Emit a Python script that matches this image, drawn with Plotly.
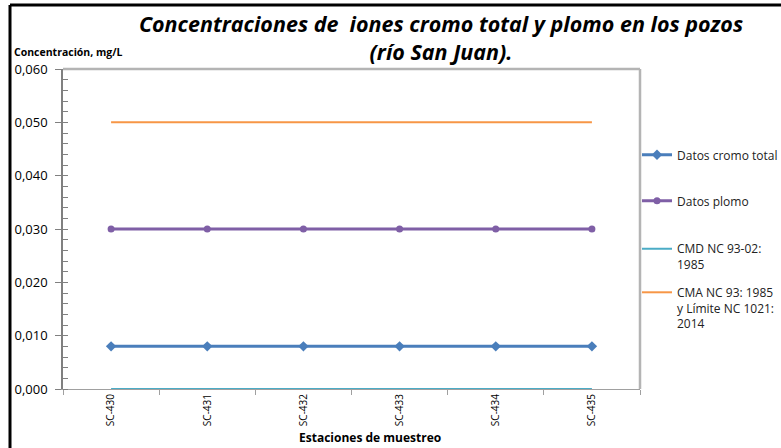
import plotly.graph_objects as go

# Sampling stations and measured concentrations (mg/L)
stations = ["SC-430", "SC-431", "SC-432", "SC-433", "SC-434", "SC-435"]
cromo_total = [0.008, 0.008, 0.008, 0.008, 0.008, 0.008]
plomo = [0.030, 0.030, 0.030, 0.030, 0.030, 0.030]
cmd_nc_93_02 = [0.000, 0.000, 0.000, 0.000, 0.000, 0.000]
cma_nc_93 = [0.050, 0.050, 0.050, 0.050, 0.050, 0.050]

y_ticks = [0.000, 0.010, 0.020, 0.030, 0.040, 0.050, 0.060]

FONT = "Open Sans"
W, H = 781, 448
L, R, T, B = 63, 141, 69, 59

fig = go.Figure()

fig.add_trace(go.Scatter(
    x=stations, y=cmd_nc_93_02, mode="lines", name="CMD NC 93-02:<br>1985",
    line=dict(color="#4BACC6", width=2), cliponaxis=False, legend="legend3",
))
fig.add_trace(go.Scatter(
    x=stations, y=cma_nc_93, mode="lines",
    name="CMA NC 93: 1985<br>y Límite NC 1021:<br>2014",
    line=dict(color="#F79646", width=2), legend="legend4",
))
fig.add_trace(go.Scatter(
    x=stations, y=plomo, mode="lines+markers", name="Datos plomo",
    line=dict(color="#7F5FA6", width=3),
    marker=dict(symbol="circle", size=7, color="#7F5FA6"), legend="legend2",
))
fig.add_trace(go.Scatter(
    x=stations, y=cromo_total, mode="lines+markers", name="Datos cromo total",
    line=dict(color="#4A7EBB", width=3),
    marker=dict(symbol="diamond", size=8, color="#4A7EBB"), legend="legend",
))

pw = W - L - R
ph = H - T - B


def px_x(x):
    return (x - L) / pw


def px_y(y):
    return (H - B - y) / ph


leg_common = dict(
    xanchor="left", yanchor="middle", x=px_x(637), bgcolor="rgba(0,0,0,0)",
    font=dict(family=FONT, size=12, color="#222"), valign="top",
    borderwidth=0, tracegroupgap=0,
)

fig.update_layout(
    width=W, height=H,
    margin=dict(l=L, r=R, t=T, b=B, pad=0, autoexpand=False),
    paper_bgcolor="white", plot_bgcolor="white",
    separators=",.",
    showlegend=True,
    legend=dict(y=px_y(155), **leg_common),
    legend2=dict(y=px_y(201), **leg_common),
    legend3=dict(y=px_y(257), **leg_common),
    legend4=dict(y=px_y(308), **leg_common),
    title=dict(
        text="<b><i>Concentraciones de \u00a0iones cromo total y plomo en los pozos<br>(río San Juan).</i></b>",
        x=px_x(441), xanchor="center", xref="paper",
        y=1 - 32 / H, yanchor="middle",
        font=dict(family=FONT, size=21.5, color="black"),
    ),
    xaxis=dict(
        type="category", tickson="boundaries", ticks="outside", ticklen=5,
        tickcolor="#A0A0A0", showline=True, linecolor="#A0A0A0", linewidth=1,
        showgrid=False, tickangle=-90, mirror=False,
        tickfont=dict(family=FONT, size=10, color="black"),
        range=[-0.5, len(stations) - 0.5],
    ),
    yaxis=dict(
        range=[0, 0.060], tickvals=y_ticks, tickformat=".3f",
        ticks="outside", ticklen=6, tickcolor="#808080",
        showline=True, linecolor="#808080", linewidth=1.5,
        showgrid=False, zeroline=False, ticklabelstandoff=5,
        tickfont=dict(family=FONT, size=13, color="black"),
        minor=dict(dtick=0.002, ticks="inside", ticklen=5, tickcolor="#808080",
                   showgrid=False),
    ),
    shapes=[
        # plot-area border on top and right
        dict(type="line", xref="paper", yref="paper", x0=0, x1=1, y0=1, y1=1,
             line=dict(color="#B4B4B4", width=2.5)),
        dict(type="line", xref="paper", yref="paper", x0=1, x1=1, y0=0, y1=1,
             line=dict(color="#B4B4B4", width=2.5)),
        # outer chart frame
        dict(type="line", xref="paper", yref="paper",
             x0=px_x(10), x1=px_x(800), y0=px_y(5), y1=px_y(5),
             line=dict(color="black", width=3)),
        dict(type="line", xref="paper", yref="paper",
             x0=px_x(10), x1=px_x(10), y0=px_y(5), y1=px_y(470),
             line=dict(color="black", width=3)),
    ],
    annotations=[
        dict(text="<b>Concentración, mg/L</b>", xref="paper", yref="paper",
             x=px_x(12), y=px_y(52), xanchor="left", yanchor="middle",
             showarrow=False, font=dict(family=FONT, size=10.5, color="black")),
        dict(text="<b>Estaciones de muestreo</b>", xref="paper", yref="paper",
             x=px_x(370), y=px_y(437), xanchor="center", yanchor="middle",
             showarrow=False, font=dict(family=FONT, size=12, color="black")),
    ],
)

fig.write_html("out.html")
